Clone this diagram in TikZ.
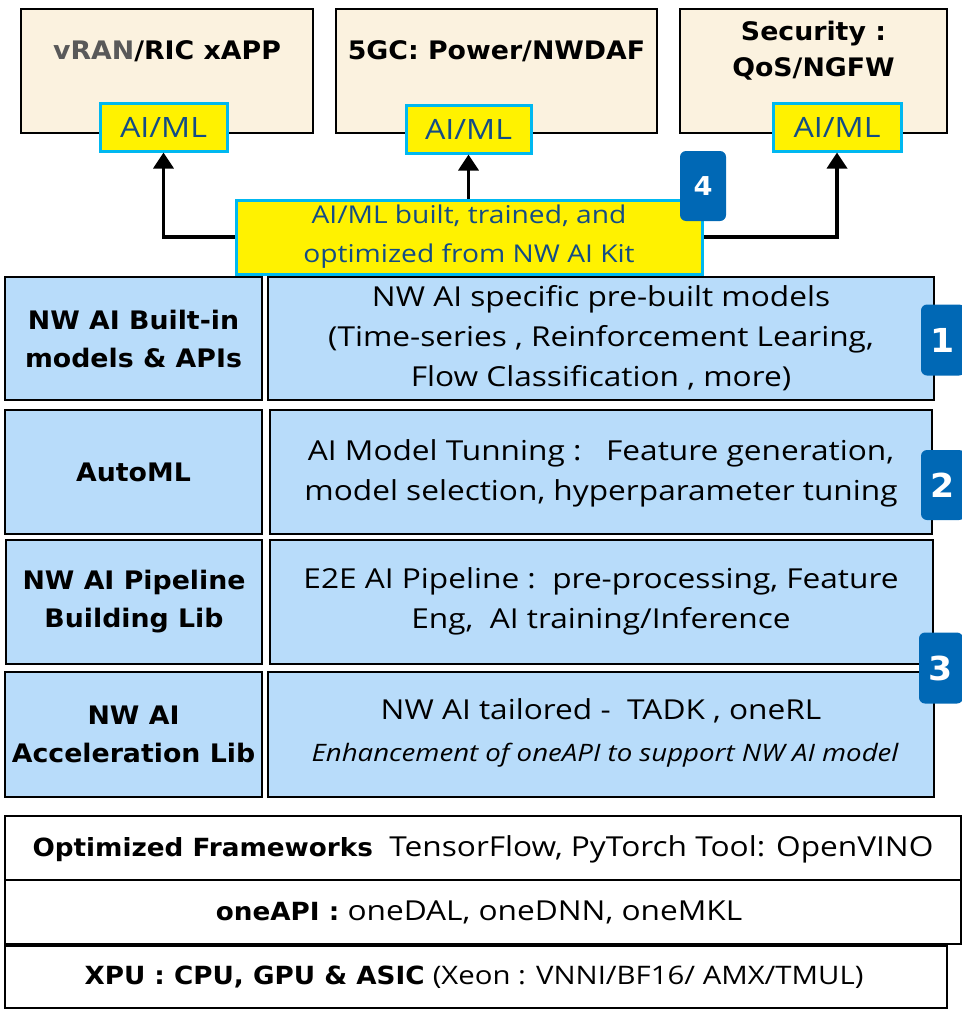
\documentclass[tikz,border=0pt]{standalone}
\usepackage{fontspec}
\setmainfont{Open Sans}[FakeStretch=1.15]
\newfontfamily\bfam{DejaVu Sans}[FakeStretch=1.05]
\usetikzlibrary{arrows.meta}
\definecolor{beige}{HTML}{FBF2DF}
\definecolor{cyanb}{HTML}{00B8F0}
\definecolor{aitext}{HTML}{134C86}
\definecolor{rowblue}{HTML}{B8DCFA}
\definecolor{badgeblue}{HTML}{0068B5}
\definecolor{vgray}{HTML}{595959}
\newcommand\bt[1]{{\bfam\bfseries #1}}
\begin{document}
\begin{tikzpicture}[x=1pt,y=-1pt,
  topbox/.style={draw=black,line width=2pt,fill=beige,inner sep=0pt,minimum height=124pt},
  aibox/.style={draw=cyanb,line width=3pt,fill=yellow,inner sep=0pt,minimum height=48pt,text=aitext,font=\fontsize{28}{34}\selectfont},
  rowbox/.style={draw=black,line width=2pt,fill=rowblue,inner sep=0pt},
  bbox/.style={draw=black,line width=2pt,fill=white,inner sep=0pt},
  badge/.style={fill=badgeblue,rounded corners=6pt,inner sep=0pt,text=white,font=\bfam\bfseries\fontsize{33}{36}\selectfont},
  arr/.style={line width=3.5pt,-{Triangle[width=20pt,length=16pt]}},
  ttl/.style={font=\bfam\bfseries\fontsize{25.5}{36}\selectfont,align=center,inner sep=0pt},
  lbl/.style={font=\bfam\bfseries\fontsize{25.5}{38}\selectfont,align=center,inner sep=0pt},
  txt/.style={font=\fontsize{27.5}{40}\selectfont,align=center,inner sep=0pt}]
\useasboundingbox (0,0) rectangle (961,1009);
% top boxes
\node[topbox,minimum width=292pt] (b1) at (167,71) {};
\node[topbox,minimum width=321pt] (b2) at (496.5,71) {};
\node[topbox,minimum width=267pt] (b3) at (813.5,71) {};
\node[ttl] (t1) at (167,51) {\textcolor{vgray}{vRAN}/RIC xAPP};
\node[ttl] (t2) at (496.5,51) {5GC: Power/NWDAF};
\node[ttl] (t3) at (813.5,51) {Security :\\QoS/NGFW};
\node[aibox,minimum width=127pt] (a1) at (163.5,127) {AI/ML};
\node[aibox,minimum width=125pt] (a2) at (468.5,129) {AI/ML};
\node[aibox,minimum width=128pt] (a3) at (837,127) {AI/ML};
% kit box
\node[aibox,minimum width=466pt,minimum height=74pt,align=center,font=\fontsize{24.5}{39}\selectfont] (kit) at (469,237) {AI/ML built, trained, and\\optimized from NW AI Kit};
\draw[arr] (kit.west) -| (a1.south);
\draw[arr] (a2.south |- kit.north) -- (a2.south);
\draw[arr] (kit.east) -| (a3.south);
\node[badge,minimum width=46pt,minimum height=70pt,font=\bfam\bfseries\fontsize{26}{30}\selectfont] (n4) at (703,186) {4};
% rows
\node[rowbox,minimum width=257pt,minimum height=123pt] (l1) at (133.5,338.5) {};
\node[rowbox,minimum width=666pt,minimum height=123pt] (r1) at (601,338.5) {};
\node[rowbox,minimum width=257pt,minimum height=124pt] (l2) at (133.5,472) {};
\node[rowbox,minimum width=662pt,minimum height=124pt] (r2) at (601,472) {};
\node[rowbox,minimum width=256pt,minimum height=124pt] (l3) at (134,602) {};
\node[rowbox,minimum width=663pt,minimum height=124pt] (r3) at (601.5,602) {};
\node[rowbox,minimum width=257pt,minimum height=125pt] (l4) at (133.5,734.5) {};
\node[rowbox,minimum width=666pt,minimum height=125pt] (r4) at (601,734.5) {};
\node[lbl] (lt1) at (l1) {NW AI Built-in\\models \& APIs};
\node[txt] (rt1) at (601,338) {NW AI specific pre-built models\\(Time-series , Reinforcement Learing,\\Flow Classification , more)};
\node[lbl] (lt2) at (l2) {AutoML};
\node[txt] (rt2) at (601,473) {AI Model Tunning :\ \ \ Feature generation,\\model selection, hyperparameter tuning};
\node[lbl] (lt3) at (l3) {NW AI Pipeline\\Building Lib};
\node[txt] (rt3) at (601,601) {E2E AI Pipeline :\ \ pre-processing, Feature\\Eng,\ \ AI training/Inference};
\node[lbl] (lt4) at (l4) {NW AI\\Acceleration Lib};
\node[txt] (rt4a) at (601,711) {NW AI tailored -\ \ TADK , oneRL};
\node[txt,font=\itshape\fontsize{24}{30}\selectfont] (rt4b) at (605,755) {Enhancement of oneAPI to support NW AI model};
\node[badge,minimum width=44pt,minimum height=71pt] (n1) at (943,340) {1};
\node[badge,minimum width=44pt,minimum height=70pt] (n2) at (943,485) {2};
\node[badge,minimum width=44pt,minimum height=71pt] (n3) at (941,668) {3};
% bottom
\node[bbox,minimum width=956pt,minimum height=64pt] (f1) at (483,848) {};
\node[bbox,minimum width=956pt,minimum height=64pt] (f2) at (483,912) {};
\node[bbox,minimum width=942pt,minimum height=62pt] (f3) at (476,977) {};
\node[txt] (ft1) at (483,849) {\bt{\fontsize{25}{30}\selectfont Optimized Frameworks}\ \ TensorFlow, PyTorch Tool: OpenVINO};
\node[txt] (ft2) at (479,912) {\bt{\fontsize{25}{30}\selectfont oneAPI :} oneDAL, oneDNN, oneMKL};
\node[txt] (ft3) at (474,977) {\bt{\fontsize{25}{30}\selectfont XPU : CPU, GPU \& ASIC} {\fontsize{25.5}{30}\selectfont(Xeon : VNNI/BF16/ AMX/TMUL)}};
\end{tikzpicture}
\end{document}
